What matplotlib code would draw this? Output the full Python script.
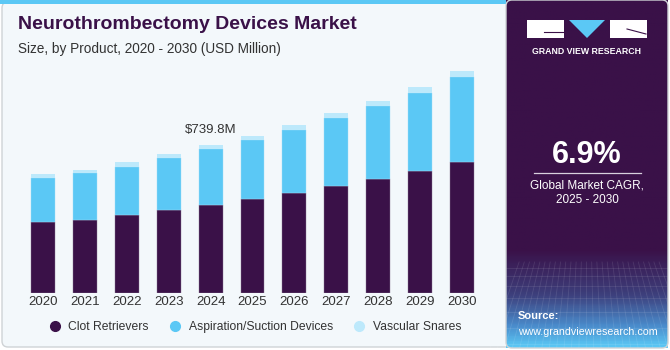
import matplotlib.pyplot as plt
from matplotlib.patches import FancyBboxPatch, Rectangle, Polygon
from matplotlib.lines import Line2D
from matplotlib.colors import LinearSegmentedColormap
import numpy as np

plt.rcParams['font.family'] = ['Liberation Sans', 'DejaVu Sans']

# data (USD Million)
years = ['2020', '2021', '2022', '2023', '2024', '2025', '2026', '2027', '2028', '2029', '2030']
clot = [356, 367, 392, 414, 441, 471, 501, 536, 573, 613, 655]
aspiration = [222, 232, 242, 264, 279, 297, 314, 341, 364, 391, 426]
snares = [18, 20, 22, 20, 20, 20, 27, 27, 27, 30, 33]
labels = ['Clot Retrievers', 'Aspiration/Suction Devices', 'Vascular Snares']
colors = ['#3a1148', '#5bc8f5', '#bde9fb']
highlight_year = '2024'
highlight_text = '$739.8M'
cagr = '6.9%'

W, H = 670, 350
fig = plt.figure(figsize=(W / 100, H / 100), dpi=100)
fig.patch.set_facecolor('white')

# background panels
bg = fig.add_axes([0, 0, 1, 1])
bg.set_xlim(0, W)
bg.set_ylim(H, 0)
bg.axis('off')
bg.add_patch(FancyBboxPatch((2, 2), 520, 345, boxstyle='round,pad=0,rounding_size=6',
                            facecolor='#f3f8fb', edgecolor='#cfd3d6', lw=1))
bg.add_patch(Rectangle((0, 0), 507, 4, facecolor='#5bc8f5', lw=0))

# right dark panel, blue glow at the bottom
grad = np.linspace(0, 1, 200)[:, None]
cmap = LinearSegmentedColormap.from_list(
    'gv', [(0, '#3a1148'), (0.72, '#3a1148'), (0.85, '#3d3f7c'), (0.94, '#4a8ccc'), (1, '#5bc8f5')])
bg.imshow(grad, cmap=cmap, extent=[506, 668, 348, 0], aspect='auto', zorder=1)
for gx in np.linspace(490, 690, 28):
    bg.plot([587 + (gx - 587) * 0.7, gx], [262, 348], color='white', alpha=0.1, lw=0.6, zorder=2)
for gy in [268, 276, 286, 298, 312, 328, 344]:
    bg.plot([506, 668], [gy, gy], color='white', alpha=0.1, lw=0.6, zorder=2)
bg.add_patch(Rectangle((668, 0), 3, 350, facecolor='white', lw=0, zorder=2))
bg.add_patch(FancyBboxPatch((506, 0), 162, 348, boxstyle='round,pad=0,rounding_size=6',
                            facecolor='none', edgecolor='#cfd3d6', lw=1, zorder=3))

# logo
bg.add_patch(Rectangle((527, 20), 37, 18, facecolor='white', lw=0, zorder=3))
bg.add_patch(Rectangle((610, 20), 37, 18, facecolor='white', lw=0, zorder=3))
bg.add_patch(Polygon([[569, 20], [605, 20], [587, 38]], facecolor='#5bc8f5', lw=0, zorder=3))
bg.plot([544, 564], [32, 32], color='#3a1148', lw=0.8, zorder=4)
bg.plot([627, 646], [29, 34], color='#3a1148', lw=0.8, zorder=4)
bg.text(587, 51, 'GRAND VIEW RESEARCH', color='white', fontsize=6.3, fontweight='bold',
        ha='center', va='center', zorder=4)

bg.text(587, 155, cagr, color='white', fontsize=22, fontweight='bold', ha='center', va='center', zorder=4)
bg.plot([534, 641], [173, 173], color='#d8d0de', lw=0.9, zorder=4)
bg.text(587, 185, 'Global Market CAGR,', color='white', fontsize=8.5, ha='center', va='center', zorder=4)
bg.text(587, 200, '2025 - 2030', color='white', fontsize=8.5, ha='center', va='center', zorder=4)
bg.text(518, 316, 'Source:', color='white', fontsize=8, fontweight='bold', ha='left', va='center', zorder=4)
bg.text(518, 332, 'www.grandviewresearch.com', color='white', fontsize=7.7, ha='left', va='center', zorder=4)

# title
bg.text(18, 29, 'Neurothrombectomy Devices Market', color='#3a1148', fontsize=14,
        fontweight='bold', ha='left', va='baseline')
bg.text(18, 53, 'Size, by Product, 2020 - 2030 (USD Million)', color='#333333', fontsize=9.8,
        ha='left', va='baseline')

# bar chart
ax = fig.add_axes([22 / W, (H - 293) / H, 461 / W, 239.4 / H])
ax.set_facecolor('none')
x = np.arange(len(years))
w = 0.57
b1 = np.array(clot)
b2 = b1 + np.array(aspiration)
ax.bar(x, clot, w, color=colors[0], edgecolor='#8a7a95', lw=0.3)
ax.bar(x, aspiration, w, bottom=b1, color=colors[1], edgecolor='#9fdcf8', lw=0.3)
ax.bar(x, snares, w, bottom=b2, color=colors[2], lw=0)
ax.set_xlim(-0.5, len(years) - 0.5)
ax.set_ylim(0, 1200)
ax.set_yticks([])
ax.set_xticks(x)
ax.set_xticklabels(years, fontsize=9.5, color='#333333')
ax.tick_params(axis='x', length=0, pad=2)
for s in ax.spines.values():
    s.set_visible(False)

i = years.index(highlight_year)
total = clot[i] + aspiration[i] + snares[i]
ax.annotate(highlight_text, (x[i], total), xytext=(0, 7), textcoords='offset points',
            ha='center', va='bottom', fontsize=9.5, color='#333333')

handles = [Line2D([], [], marker='o', ls='', markersize=7, markerfacecolor=c, markeredgecolor=c)
           for c in colors]
fig.legend(handles, labels, loc='center', bbox_to_anchor=(252 / W, 1 - 327 / H), ncol=3,
           frameon=False, fontsize=8.7, handletextpad=0.1, columnspacing=1.2,
           labelcolor='#333333')

fig.savefig('out.png', dpi=100)
